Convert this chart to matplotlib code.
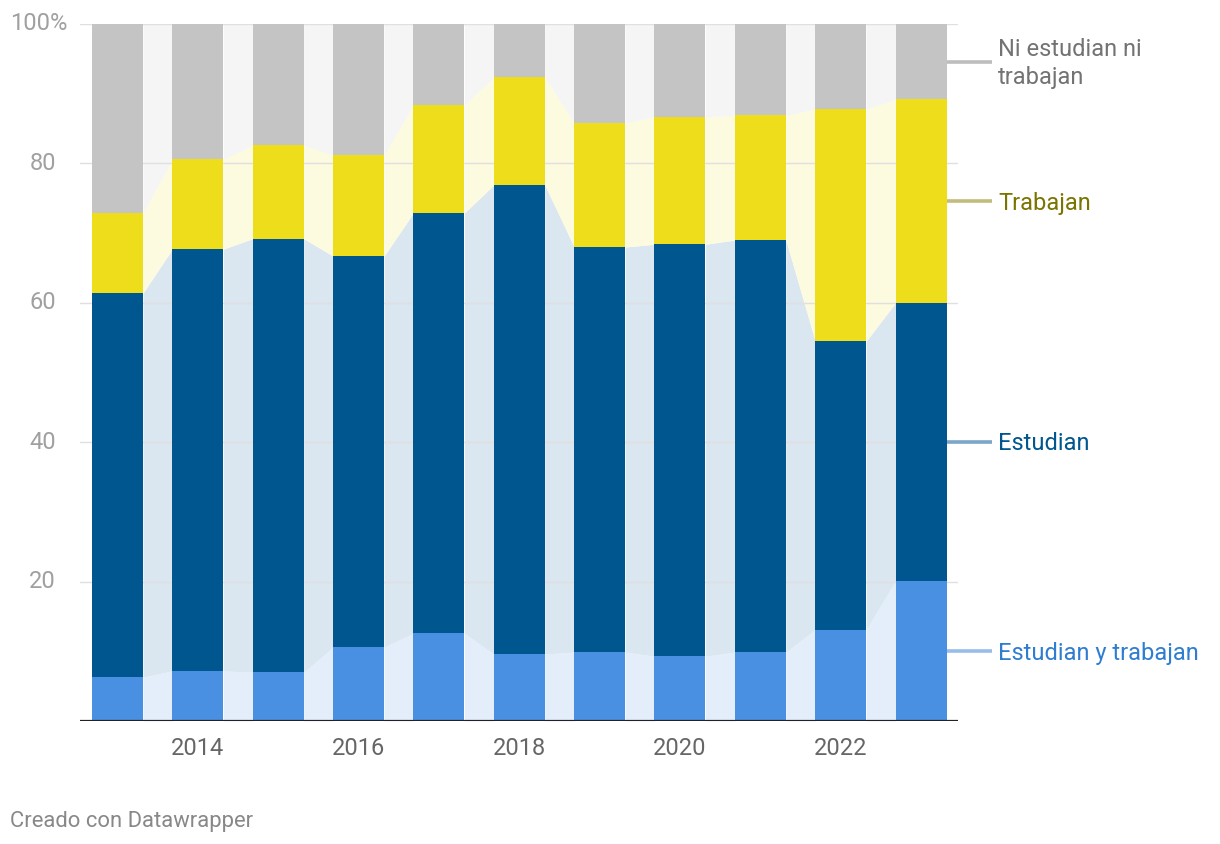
import numpy as np
import matplotlib.pyplot as plt
from matplotlib.transforms import blended_transform_factory

plt.rcParams["font.family"] = ["Roboto", "DejaVu Sans"]

# --- Data (shares, %) ---
years = [2013, 2014, 2015, 2016, 2017, 2018, 2019, 2020, 2021, 2022, 2023]
estudian_y_trabajan = [6.3, 7.2, 7.0, 10.6, 12.6, 9.6, 9.9, 9.3, 9.9, 13.1, 20.1]
estudian = [55.1, 60.5, 62.2, 56.1, 60.3, 67.3, 58.1, 59.1, 59.1, 41.4, 39.9]
trabajan = [11.5, 12.9, 13.4, 14.5, 15.5, 15.5, 17.8, 18.3, 17.9, 33.3, 29.2]
ni_ni = [27.1, 19.4, 17.4, 18.8, 11.6, 7.6, 14.2, 13.3, 13.1, 12.2, 10.8]

series = [
    ("Estudian y trabajan", estudian_y_trabajan, "#4a90e2", "#e4eefb", "#98bde9", "#2f7dd1"),
    ("Estudian", estudian, "#00568f", "#dae6f0", "#7aa6c8", "#00568f"),
    ("Trabajan", trabajan, "#eedd1a", "#fcfadf", "#c2bd7c", "#7a7400"),
    ("Ni estudian ni\ntrabajan", ni_ni, "#c4c4c4", "#f5f5f5", "#bdbdbd", "#737373"),
]

FS = 17

W, H = 1220, 844
fig = plt.figure(figsize=(W / 100, H / 100), dpi=100)
ax = fig.add_axes([80 / W, (H - 721) / H, 878 / W, 697 / H])

x = np.array(years, dtype=float)
bw = 0.635
ax.set_xlim(2012.533, 2023.46)
ax.set_ylim(0, 100)

bottom = np.zeros(len(years))
for name, vals, col, light, lcol, tcol in series:
    vals = np.array(vals)
    top = bottom + vals
    ax.bar(x, vals, bw, bottom=bottom, color=col, zorder=3, linewidth=0)
    # connecting areas between bars
    for i in range(len(x) - 1):
        xs = [x[i] + bw / 2, x[i + 1] - bw / 2]
        ax.fill_between(xs, [bottom[i], bottom[i + 1]], [top[i], top[i + 1]],
                        color=light, linewidth=0, zorder=1)
    # right-side label
    ymid = (bottom[-1] + top[-1]) / 2
    ax.plot([x[-1] + bw / 2, x[-1] + 71 / 80.35], [ymid, ymid], color=lcol,
            lw=2.6, clip_on=False, zorder=4, solid_capstyle="butt")
    ax.text(x[-1] + 77 / 80.35, ymid - 0.3, name, color=tcol, fontsize=FS,
            va="center", ha="left", linespacing=1.3, clip_on=False)
    bottom = top

# grid
for g in [20, 40, 60, 80, 100]:
    ax.axhline(g, color="#e0e0e0", lw=1, zorder=2)
ax.axhline(0, color="#222222", lw=1.6, zorder=5)

# y labels
trans = blended_transform_factory(fig.transFigure, ax.transData)
for g in [20, 40, 60, 80]:
    ax.text(56 / W, g, str(g), transform=trans, ha="right", va="center",
            fontsize=FS, color="#a0a0a0")
ax.text(10 / W, 100, "100%", transform=trans, ha="left", va="center",
        fontsize=FS, color="#a0a0a0")

# x labels
for yr in [2014, 2016, 2018, 2020, 2022]:
    ax.text(yr, -3.9, str(yr), ha="center", va="center", fontsize=FS,
            color="#666666", clip_on=False)

for s in ax.spines.values():
    s.set_visible(False)
ax.set_xticks([])
ax.set_yticks([])

fig.text(10 / W, 1 - 822 / H, "Creado con Datawrapper", ha="left", va="center",
         fontsize=15.8, color="#888888")

fig.savefig("out.png", dpi=100)
